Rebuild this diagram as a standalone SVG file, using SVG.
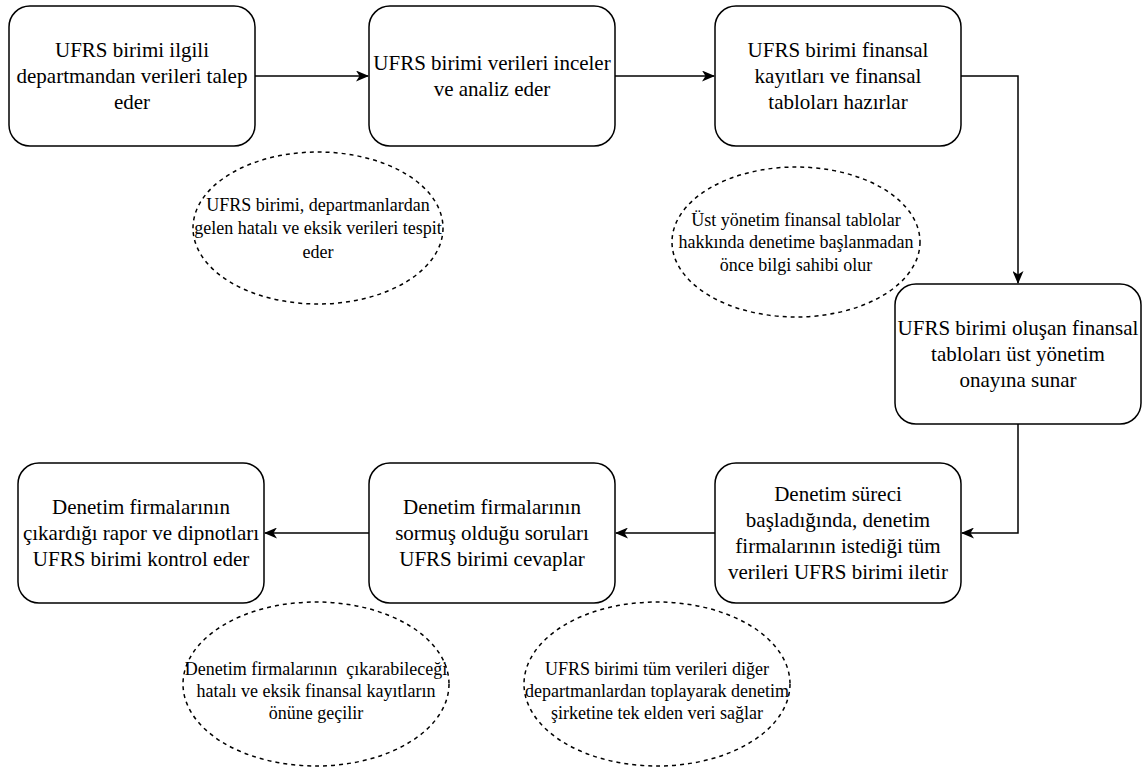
<svg xmlns="http://www.w3.org/2000/svg" width="1147" height="774" viewBox="0 0 1147 774">
  <style>
    .box { fill: #ffffff; stroke: #000000; stroke-width: 1.5; }
    .note { fill: none; stroke: #000000; stroke-width: 1.5; stroke-dasharray: 4 4; }
    .t { font-size: 21px; fill: #000000; text-anchor: middle; }
    .s { font-size: 18px; fill: #000000; text-anchor: middle; }
    .edge { fill: none; stroke: #000000; stroke-width: 1.5; }
  </style>
  <defs>
    <marker id="arrow" viewBox="0 0 13 11" refX="12" refY="5.5" markerWidth="13" markerHeight="11" markerUnits="userSpaceOnUse" orient="auto">
      <path d="M0,0 L13,5.5 L0,11 L3.5,5.5 Z" fill="#000000"/>
    </marker>
  </defs>

  <rect width="1147" height="774" fill="#ffffff"/>

  <!-- connectors between steps -->
  <g id="connectors">
    <path class="edge" d="M255,76 L368,76" marker-end="url(#arrow)"/>
    <path class="edge" d="M615,76 L714,76" marker-end="url(#arrow)"/>
    <path class="edge" d="M961,76 L1018,76 L1018,283" marker-end="url(#arrow)"/>
    <path class="edge" d="M1018,424 L1018,533 L962,533" marker-end="url(#arrow)"/>
    <path class="edge" d="M715,533 L616,533" marker-end="url(#arrow)"/>
    <path class="edge" d="M369,533 L265,533" marker-end="url(#arrow)"/>
  </g>

  <g font-family="Liberation Serif, Tinos, Times New Roman, DejaVu Serif, serif">
  <g id="step1">
    <rect class="box" x="9" y="6" width="246" height="140" rx="21"/>
    <text class="t" x="132" y="57">UFRS birimi ilgili</text>
    <text class="t" x="132" y="83">departmandan verileri talep</text>
    <text class="t" x="132" y="109">eder</text>
  </g>

  <g id="step2">
    <rect class="box" x="369" y="6" width="246" height="140" rx="21"/>
    <text class="t" x="492" y="70">UFRS birimi verileri inceler</text>
    <text class="t" x="492" y="96">ve analiz eder</text>
  </g>

  <g id="step3">
    <rect class="box" x="715" y="6" width="246" height="140" rx="21"/>
    <text class="t" x="838" y="57">UFRS birimi finansal</text>
    <text class="t" x="838" y="83">kayıtları ve finansal</text>
    <text class="t" x="838" y="109">tabloları hazırlar</text>
  </g>

  <g id="step4">
    <rect class="box" x="895" y="284" width="246" height="140" rx="21"/>
    <text class="t" x="1018" y="335">UFRS birimi oluşan finansal</text>
    <text class="t" x="1018" y="361">tabloları üst yönetim</text>
    <text class="t" x="1018" y="387">onayına sunar</text>
  </g>

  <g id="step5">
    <rect class="box" x="715" y="463" width="246" height="140" rx="21"/>
    <text class="t" x="838" y="501">Denetim süreci</text>
    <text class="t" x="838" y="527">başladığında, denetim</text>
    <text class="t" x="838" y="553">firmalarının istediği tüm</text>
    <text class="t" x="838" y="579">verileri UFRS birimi iletir</text>
  </g>

  <g id="step6">
    <rect class="box" x="369" y="463" width="246" height="140" rx="21"/>
    <text class="t" x="492" y="514">Denetim firmalarının</text>
    <text class="t" x="492" y="540">sormuş olduğu soruları</text>
    <text class="t" x="492" y="566">UFRS birimi cevaplar</text>
  </g>

  <g id="step7">
    <rect class="box" x="18" y="463" width="246" height="140" rx="21"/>
    <text class="t" x="141" y="514">Denetim firmalarının</text>
    <text class="t" x="141" y="540">çıkardığı rapor ve dipnotları</text>
    <text class="t" x="141" y="566">UFRS birimi kontrol eder</text>
  </g>

  <g id="note1">
    <ellipse class="note" cx="318" cy="228" rx="125" ry="76"/>
    <text class="s" x="318" y="211">UFRS birimi, departmanlardan</text>
    <text class="s" x="318" y="234">gelen hatalı ve eksik verileri tespit</text>
    <text class="s" x="318" y="258">eder</text>
  </g>

  <g id="note2">
    <ellipse class="note" cx="796" cy="242" rx="124" ry="75"/>
    <text class="s" x="796" y="226">Üst yönetim finansal tablolar</text>
    <text class="s" x="796" y="248">hakkında denetime başlanmadan</text>
    <text class="s" x="796" y="271">önce bilgi sahibi olur</text>
  </g>

  <g id="note3">
    <ellipse class="note" cx="316" cy="684" rx="133" ry="82"/>
    <text class="s" x="316" y="675" xml:space="preserve">Denetim firmalarının  çıkarabileceği</text>
    <text class="s" x="316" y="697">hatalı ve eksik finansal kayıtların</text>
    <text class="s" x="316" y="719">önüne geçilir</text>
  </g>

  <g id="note4">
    <ellipse class="note" cx="657" cy="684" rx="133" ry="82"/>
    <text class="s" x="657" y="675">UFRS birimi tüm verileri diğer</text>
    <text class="s" x="657" y="697">departmanlardan toplayarak denetim</text>
    <text class="s" x="657" y="719">şirketine tek elden veri sağlar</text>
  </g>
  </g>
</svg>
